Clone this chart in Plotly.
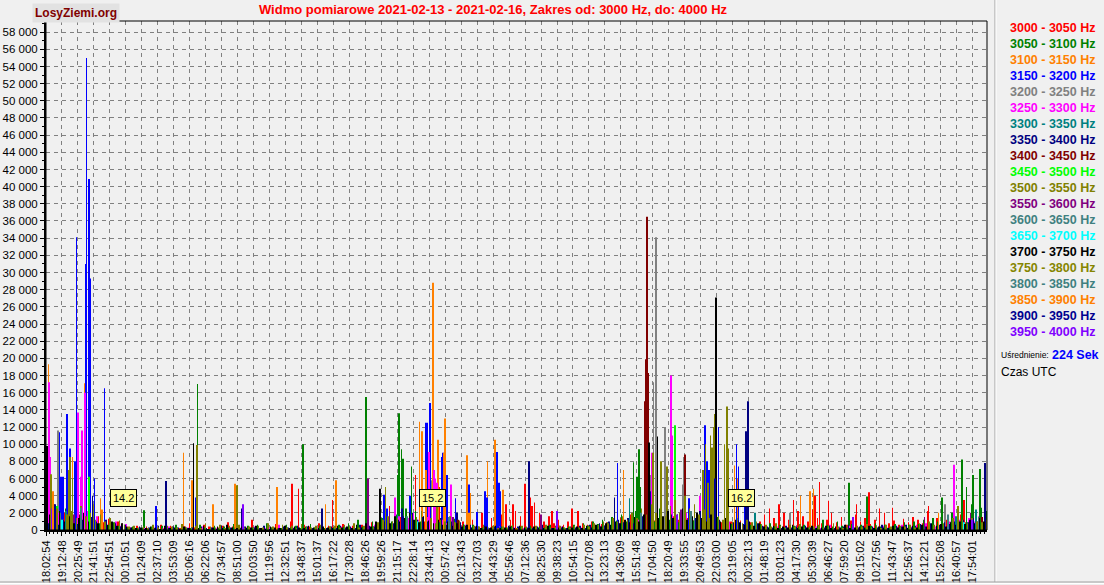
import plotly.graph_objects as go

# x axis: sample index (224 s averaging), one label every 20 samples
time_labels = [
    "18:02:54", "19:12:48", "20:25:49", "21:41:51", "22:54:51", "00:10:51", "01:24:09",
    "02:37:10", "03:53:09", "05:06:16", "06:22:06", "07:34:57", "08:51:00", "10:03:50",
    "11:19:56", "12:32:51", "13:48:37", "15:01:37", "16:17:22", "17:30:28", "18:46:26",
    "19:59:26", "21:15:17", "22:28:14", "23:44:13", "00:57:42", "02:13:43", "03:27:03",
    "04:43:29", "05:56:46", "07:12:36", "08:25:30", "09:38:23", "10:54:15", "12:07:08",
    "13:23:13", "14:36:09", "15:51:48", "17:04:50", "18:20:49", "19:33:55", "20:49:53",
    "22:03:00", "23:19:05", "00:32:13", "01:48:19", "03:01:23", "04:17:30", "05:30:39",
    "06:46:27", "07:59:20", "09:15:02", "10:27:56", "11:43:47", "12:56:37", "14:12:21",
    "15:25:08", "16:40:57", "17:54:01",
]
label_step = 20

bands = [
    "3000 - 3050 Hz", "3050 - 3100 Hz", "3100 - 3150 Hz", "3150 - 3200 Hz",
    "3200 - 3250 Hz", "3250 - 3300 Hz", "3300 - 3350 Hz", "3350 - 3400 Hz",
    "3400 - 3450 Hz", "3450 - 3500 Hz", "3500 - 3550 Hz", "3550 - 3600 Hz",
    "3600 - 3650 Hz", "3650 - 3700 Hz", "3700 - 3750 Hz", "3750 - 3800 Hz",
    "3800 - 3850 Hz", "3850 - 3900 Hz", "3900 - 3950 Hz", "3950 - 4000 Hz",
]
colors = [
    "#FF0000", "#008000", "#FF8000", "#0000FF", "#808080", "#FF00FF", "#008080",
    "#000080", "#800000", "#00FF00", "#808000", "#800080", "#408080", "#00FFFF",
    "#000000", "#858500", "#408080", "#FF8000", "#000090", "#8000FF",
]

# low-level background per band, in hundreds, one value every 6 samples
floor_red = [
    12, 8, 15, 6, 20, 10, 14, 9, 18, 7, 11, 16, 9, 13, 6, 10, 8, 4, 3, 5,
    2, 4, 1, 3, 6, 2, 5, 3, 2, 4, 8, 3, 2, 6, 4, 1, 3, 5, 9, 4,
    2, 6, 3, 12, 4, 2, 5, 3, 7, 2, 4, 10, 3, 2, 6, 4, 3, 8, 2, 5,
    3, 4, 7, 2, 5, 3, 6, 4, 9, 5, 8, 12, 6, 10, 15, 7, 12, 9, 14, 10,
    16, 8, 11, 6, 13, 9, 7, 10, 8, 12, 15, 20, 9, 14, 25, 18, 30, 12, 22, 16,
    35, 28, 14, 20, 10, 16, 8, 12, 6, 10, 5, 22, 8, 6, 10, 4, 7, 9, 12, 8,
    14, 10, 18, 7, 12, 9, 15, 11, 8, 13, 10, 16, 12, 9, 14, 11, 8, 13, 10, 7,
    12, 9, 15, 10, 8, 11, 14, 9, 12, 10, 18, 25, 14, 30, 20, 12, 35, 22, 16, 10,
    24, 14, 8, 12, 20, 9, 15, 6, 11, 18, 10, 14, 7, 12, 9, 20, 8, 11, 6, 13,
    9, 15, 12, 8, 22, 10, 14, 9, 12, 16, 11, 18, 9, 14, 12, 8, 15,
]
floor_green = [
    10, 18, 8, 14, 25, 12, 20, 9, 16, 11, 14, 8, 12, 6, 9, 5, 7, 3, 4, 2,
    3, 1, 4, 2, 5, 3, 2, 6, 1, 3, 2, 4, 6, 3, 1, 5, 2, 4, 3, 7,
    4, 2, 5, 3, 6, 2, 8, 3, 4, 2, 6, 3, 5, 2, 4, 7, 3, 5, 2, 4,
    3, 6, 4, 8, 5, 12, 4, 7, 10, 6, 14, 20, 10, 18, 12, 25, 16, 22, 10, 14,
    12, 18, 9, 15, 8, 13, 10, 7, 5, 6, 4, 3, 5, 2, 6, 4, 3, 5, 2, 4,
    3, 5, 2, 4, 3, 6, 2, 5, 3, 4, 6, 3, 8, 5, 10, 7, 12, 9, 15, 11,
    18, 10, 14, 22, 12, 16, 20, 10, 25, 14, 12, 18, 9, 15, 20, 11, 16, 8, 13, 10,
    15, 9, 12, 7, 11, 8, 10, 6, 9, 7, 5, 8, 4, 6, 3, 7, 5, 4, 6, 3,
    8, 5, 12, 6, 4, 10, 5, 3, 7, 4, 6, 3, 5, 8, 4, 6, 3, 7, 5, 9,
    6, 10, 7, 12, 8, 14, 10, 16, 12, 20, 15, 25, 18, 30, 20, 26, 22,
]
floor_olive = [
    20, 15, 25, 12, 18, 22, 14, 28, 16, 20, 12, 18, 10, 14, 8, 11, 6, 4, 5, 3,
    4, 2, 6, 3, 2, 5, 4, 3, 7, 2, 3, 5, 2, 8, 4, 3, 6, 2, 5, 3,
    6, 3, 4, 2, 5, 3, 8, 4, 2, 6, 3, 5, 2, 7, 4, 3, 5, 6, 3, 4,
    5, 3, 6, 4, 8, 3, 5, 7, 4, 9, 12, 16, 10, 14, 20, 12, 18, 15, 22, 10,
    14, 8, 12, 10, 16, 9, 11, 6, 8, 5, 4, 6, 3, 5, 2, 4, 3, 6, 2, 5,
    4, 3, 5, 2, 6, 3, 4, 5, 2, 3, 5, 3, 6, 4, 8, 6, 10, 8, 14, 10,
    16, 12, 20, 14, 25, 18, 30, 20, 22, 16, 28, 35, 20, 40, 25, 30, 18, 24, 14, 20,
    16, 12, 18, 10, 14, 8, 12, 9, 10, 7, 6, 4, 8, 5, 3, 6, 4, 7, 3, 5,
    4, 6, 3, 5, 8, 4, 2, 6, 3, 5, 4, 7, 3, 5, 2, 6, 4, 3, 5, 4,
    6, 3, 8, 5, 10, 6, 12, 8, 10, 14, 10, 12, 8, 14, 10, 9, 12,
]
floor_navy = [
    8, 14, 6, 12, 10, 18, 7, 12, 9, 15, 10, 7, 12, 5, 8, 4, 6, 3, 2, 4,
    1, 3, 2, 5, 1, 2, 4, 3, 1, 2, 3, 1, 4, 2, 3, 1, 5, 2, 3, 1,
    2, 4, 1, 3, 2, 5, 1, 3, 2, 4, 3, 2, 5, 1, 4, 2, 3, 6, 2, 4,
    2, 5, 3, 4, 2, 6, 3, 5, 4, 8, 10, 14, 8, 12, 16, 9, 20, 12, 15, 10,
    12, 8, 14, 6, 10, 7, 9, 5, 6, 4, 3, 5, 2, 4, 3, 2, 5, 3, 4, 2,
    3, 2, 4, 6, 3, 2, 5, 3, 2, 4, 3, 5, 2, 6, 4, 8, 5, 10, 7, 12,
    9, 14, 8, 12, 16, 10, 13, 9, 15, 11, 18, 12, 20, 10, 16, 14, 22, 12, 10, 15,
    12, 8, 14, 9, 11, 7, 10, 6, 8, 5, 4, 3, 6, 2, 5, 3, 4, 2, 5, 3,
    2, 4, 3, 5, 2, 3, 4, 6, 2, 3, 5, 2, 4, 3, 6, 2, 3, 5, 4, 6,
    3, 5, 7, 4, 8, 5, 6, 9, 7, 10, 8, 12, 9, 14, 10, 11, 16,
]
floor_magenta = [
    15, 10, 20, 12, 25, 14, 30, 18, 22, 12, 16, 9, 12, 6, 10, 5, 7, 3, 2, 1,
    2, 1, 3, 1, 2, 4, 1, 2, 1, 3, 1, 2, 4, 1, 3, 2, 1, 5, 2, 1,
    3, 1, 2, 4, 1, 2, 3, 1, 6, 2, 1, 3, 2, 1, 4, 2, 1, 3, 2, 1,
    2, 4, 1, 3, 2, 5, 3, 2, 6, 4, 8, 12, 6, 16, 10, 14, 20, 12, 8, 15,
    10, 6, 12, 8, 5, 9, 4, 6, 3, 4, 2, 3, 1, 2, 4, 1, 2, 3, 1, 2,
    3, 1, 2, 1, 3, 2, 1, 4, 2, 1, 2, 3, 1, 4, 2, 5, 3, 6, 4, 8,
    6, 10, 5, 12, 8, 6, 14, 9, 7, 12, 10, 16, 8, 20, 12, 9, 14, 10, 8, 12,
    9, 6, 10, 5, 8, 4, 7, 3, 6, 4, 3, 2, 4, 1, 3, 2, 5, 2, 3, 1,
    4, 2, 3, 6, 2, 4, 3, 5, 2, 3, 2, 4, 3, 2, 5, 3, 2, 4, 6, 3,
    4, 6, 3, 8, 5, 4, 7, 5, 10, 6, 12, 8, 14, 10, 16, 9, 11,
]
floor_black = [
    18, 12, 22, 10, 16, 8, 14, 20, 10, 12, 8, 14, 6, 10, 5, 8, 4, 3, 2, 3,
    2, 4, 3, 1, 5, 2, 3, 1, 4, 2, 3, 2, 5, 1, 3, 4, 2, 6, 3, 2,
    4, 2, 3, 5, 2, 1, 4, 3, 2, 5, 2, 4, 3, 2, 5, 3, 2, 4, 3, 2,
    5, 3, 4, 2, 6, 3, 8, 4, 10, 6, 12, 8, 16, 10, 14, 20, 12, 9, 16, 11,
    8, 12, 6, 10, 5, 8, 4, 6, 3, 5, 2, 4, 3, 5, 2, 3, 4, 2, 5, 3,
    2, 4, 3, 2, 5, 2, 3, 4, 2, 3, 4, 2, 5, 3, 6, 4, 8, 6, 10, 8,
    12, 9, 15, 10, 18, 12, 20, 14, 16, 22, 14, 18, 25, 12, 16, 20, 14, 10, 18, 12,
    10, 14, 8, 12, 9, 6, 10, 5, 8, 4, 3, 5, 2, 4, 3, 6, 2, 4, 3, 5,
    2, 3, 5, 2, 4, 3, 6, 2, 3, 4, 3, 5, 2, 4, 3, 2, 5, 3, 4, 2,
    5, 3, 6, 4, 8, 5, 7, 4, 9, 6, 10, 7, 12, 8, 14, 10, 9,
]
floor_step = 6

# peaks per band: (sample index, value)
spikes_3000 = [(10, 3000), (61, 5500), (308, 5400), (316, 4800), (359, 3500), (430, 2800),
               (463, 6400), (493, 5000), (585, 3000), (600, 5400), (606, 3800), (609, 2800),
               (612, 3200), (634, 2200), (659, 2500), (963, 4000), (969, 5600), (980, 3400),
               (1015, 3000), (1031, 4400), (1044, 2500), (1060, 2600), (1105, 2800), (1150, 3500)]
spikes_3050 = [(123, 2300), (190, 17000), (322, 10000), (401, 15500), (440, 6400), (442, 13600),
               (445, 9400), (447, 8300), (458, 7400), (736, 7900), (740, 6200), (743, 9400),
               (744, 5000), (1006, 5500), (1028, 3900), (1122, 3800), (1147, 8200), (1153, 5000),
               (1161, 6400), (1170, 7100)]
spikes_3100 = [(3, 19300), (33, 8500), (48, 17100), (68, 3700), (172, 9000), (183, 5800),
               (209, 3000), (237, 5400), (289, 5000), (363, 5800), (455, 2700), (468, 12600),
               (471, 11500), (485, 28800), (491, 10500), (500, 13000), (503, 6000), (527, 8700),
               (531, 4300), (553, 8000), (562, 10500), (572, 4700), (723, 7000), (853, 9500),
               (866, 6000), (945, 4000), (957, 4500), (961, 4800)]
spikes_3150 = [(16, 11400), (19, 6200), (21, 6200), (26, 13500), (30, 9500), (36, 8000),
               (38, 34100), (45, 11000), (50, 31000), (51, 55000), (53, 33500), (54, 40900),
               (55, 29300), (56, 12000), (61, 6000), (73, 16500), (138, 2800), (188, 3800),
               (423, 4100), (427, 2500), (456, 4000), (475, 12500), (477, 12500), (481, 14800),
               (496, 8500), (497, 9000), (502, 6400), (513, 3700), (530, 5300), (540, 2100),
               (550, 4500), (552, 3800), (565, 9100), (567, 5500), (569, 4500), (716, 7800),
               (805, 3700), (825, 12200), (828, 8000), (830, 7000), (842, 12000), (865, 10000),
               (867, 7400), (875, 4000)]
spikes_3200 = [(15, 11600), (483, 5800), (757, 6400), (761, 17200), (764, 34100), (766, 9000),
               (775, 11900), (798, 5300), (799, 8500), (932, 2000), (1126, 3000)]
spikes_3250 = [(4, 17200), (5, 8500), (40, 13700), (43, 6200), (45, 11600), (49, 16000),
               (437, 3800), (480, 9100), (486, 7000), (488, 6000), (490, 5500), (507, 5300),
               (759, 9000), (783, 18000), (784, 11000), (819, 4000), (1137, 7600)]
spikes_3300 = [(10, 1500), (25, 2200), (42, 1200), (440, 1800), (470, 1400), (731, 3700),
               (760, 1500), (888, 2000), (1140, 1600), (1165, 2400)]
spikes_3350 = [(150, 5700), (245, 2500), (346, 2500), (515, 2000), (605, 8000), (712, 3800),
               (877, 11500), (879, 15000), (1176, 7800)]
spikes_3400 = [(9, 2000), (42, 1800), (516, 1200), (750, 15000), (751, 19900), (752, 26800),
               (753, 36500), (754, 18300), (800, 8800), (1172, 1500)]
spikes_3450 = [(14, 2800), (54, 6200), (788, 12200)]
spikes_3500 = [(2, 8600), (30, 8500), (33, 6000), (189, 9900), (239, 5200), (778, 7400),
               (823, 7000), (826, 10000), (829, 5500), (832, 11000), (834, 9600), (837, 13500),
               (853, 14400), (855, 9500)]
spikes_3550 = [(8, 2500), (35, 1800), (403, 6000), (430, 2200), (510, 1500), (620, 1800),
               (795, 2400), (1100, 1500), (1158, 2000)]
spikes_3600 = [(12, 1800), (44, 2600), (452, 1600), (745, 2000), (812, 1400), (1130, 1800)]
spikes_3650 = [(20, 1200), (466, 1000), (790, 1500), (1150, 900)]
spikes_3700 = [(1, 9800), (185, 10100), (418, 4800), (755, 10200), (766, 10900), (839, 27100),
               (840, 14000)]
spikes_3750 = [(6, 6500), (28, 7000), (59, 3000), (425, 5000), (490, 3600), (760, 9000),
               (770, 8000), (836, 12000), (850, 10000), (1142, 2800)]
spikes_3800 = [(18, 2000), (505, 1500), (808, 2200), (1168, 1500)]
spikes_3850 = [(9, 4500), (70, 2400), (350, 3000), (476, 7000), (498, 9000), (530, 2000),
               (862, 7500), (1118, 2000)]
spikes_3900 = [(11, 3000), (58, 4000), (446, 2500), (757, 4500), (838, 6000)]
spikes_3950 = [(7, 2500), (247, 3000), (640, 2200), (790, 1800), (1011, 1500), (1160, 1200)]

spikes = [spikes_3000, spikes_3050, spikes_3100, spikes_3150, spikes_3200, spikes_3250,
          spikes_3300, spikes_3350, spikes_3400, spikes_3450, spikes_3500, spikes_3550,
          spikes_3600, spikes_3650, spikes_3700, spikes_3750, spikes_3800, spikes_3850,
          spikes_3900, spikes_3950]
# band index -> (floor list, sample offset)
floors = {0: (floor_red, 0), 1: (floor_green, 1), 10: (floor_olive, 2),
          7: (floor_navy, 3), 5: (floor_magenta, 4), 14: (floor_black, 5)}

# midnight markers (sample index)
day_marks = [("14.2", 97), ("15.2", 484), ("16.2", 871)]

n_samples = 1178.5
y_max = 59300

# plot area in pixels
L, R, T, B = 46, 987, 21, 530


def px(x):
    return (x - L) / (R - L)


def py(y):
    return (B - y) / (B - T)


fig = go.Figure()

for i, band in enumerate(bands):
    xs, ys = [], []
    if i in floors:
        vals, off = floors[i]
        xs += [floor_step * k + off for k in range(len(vals))]
        ys += [v * 100 for v in vals]
    for idx, v in spikes[i]:
        xs.append(idx)
        ys.append(v)
    fig.add_trace(go.Bar(x=xs, y=ys, width=0.7, name=band,
                         marker=dict(color=colors[i], line_width=0),
                         showlegend=False, hoverinfo="skip"))

font = "Liberation Sans, Arial, sans-serif"
annotations = []
for i, band in enumerate(bands):
    annotations.append(dict(x=px(1008), y=py(28 + 16 * i), xref="paper", yref="paper",
                            xanchor="left", yanchor="middle", showarrow=False, text=band,
                            font=dict(family=font, size=12.5, color=colors[i], weight="bold")))
annotations += [
    dict(x=px(999), y=py(355), xref="paper", yref="paper", xanchor="left", yanchor="middle",
         showarrow=False, text="Uśrednienie:", font=dict(family=font, size=8.5, color="black")),
    dict(x=px(1050), y=py(355), xref="paper", yref="paper", xanchor="left", yanchor="middle",
         showarrow=False, text="224 Sek",
         font=dict(family=font, size=12.5, color="#0000FF", weight="bold")),
    dict(x=px(999), y=py(372), xref="paper", yref="paper", xanchor="left", yanchor="middle",
         showarrow=False, text="Czas UTC", font=dict(family=font, size=12, color="black")),
    dict(x=px(76), y=py(13), xref="paper", yref="paper", xanchor="center", yanchor="middle",
         showarrow=False, text="LosyZiemi.org", bgcolor="#E2E2E2", borderpad=2,
         font=dict(family=font, size=12, color="#800000", weight="bold")),
]
shapes = []
for lbl, idx in day_marks:
    shapes.append(dict(type="line", xref="x", yref="y", x0=idx, x1=idx, y0=0, y1=2900,
                       line=dict(color="white", width=1)))
    annotations.append(dict(x=idx, y=3700, xref="x", yref="y", showarrow=False, text=lbl,
                            bgcolor="#FFFF99", bordercolor="black", borderwidth=1, borderpad=2,
                            font=dict(family=font, size=11, color="black")))

shapes += [
    dict(type="rect", xref="paper", yref="paper", x0=0, x1=1, y0=0, y1=1,
         line=dict(color="black", width=1)),
    dict(type="line", xref="paper", yref="paper", x0=px(995), x1=px(995), y0=py(0), y1=py(582),
         line=dict(color="#A0A0A0", width=1)),
    dict(type="line", xref="paper", yref="paper", x0=px(996), x1=px(996), y0=py(0), y1=py(582),
         line=dict(color="#FFFFFF", width=1)),
    dict(type="line", xref="paper", yref="paper", x0=px(0), x1=px(1104), y0=py(582), y1=py(582),
         line=dict(color="#A0A0A0", width=1)),
    dict(type="line", xref="paper", yref="paper", x0=px(0), x1=px(1104), y0=py(583.5), y1=py(583.5),
         line=dict(color="#FFFFFF", width=1)),
]

fig.update_layout(
    width=1104, height=585,
    margin=dict(l=L, r=1104 - R, t=T, b=585 - B, autoexpand=False),
    paper_bgcolor="#F0F0F0", plot_bgcolor="#F0F0F0",
    barmode="overlay",
    separators=", ",
    font=dict(family=font, color="black"),
    title=dict(text="Widmo pomiarowe 2021-02-13 - 2021-02-16, Zakres od: 3000 Hz, do: 4000 Hz",
               x=493 / 1104, xref="container", xanchor="center",
               y=1 - 9 / 585, yref="container", yanchor="middle",
               font=dict(family=font, size=13, color="#FF0000", weight="bold")),
    annotations=annotations,
    shapes=shapes,
    xaxis=dict(
        range=[0, n_samples], tickmode="array", automargin=False,
        tickvals=[label_step * k for k in range(len(time_labels))], ticktext=time_labels,
        tickangle=-90, tickfont=dict(size=11), ticks="outside", ticklen=4, tickcolor="black",
        showgrid=True, gridcolor="#808080", griddash="4px,4px", gridwidth=1,
        showline=True, linecolor="black", linewidth=2, zeroline=False,
        minor=dict(tickmode="linear", tick0=0, dtick=5, ticks="outside", ticklen=2,
                   tickcolor="black", showgrid=False),
    ),
    yaxis=dict(
        range=[0, y_max], dtick=2000, tick0=0, tickformat=",d", automargin=False,
        tickfont=dict(size=11.5), ticks="outside", ticklen=4, tickcolor="black",
        showgrid=True, gridcolor="#808080", griddash="4px,4px", gridwidth=1,
        showline=True, linecolor="black", linewidth=2, zeroline=False,
        minor=dict(tickmode="linear", tick0=0, dtick=1000, ticks="outside", ticklen=2,
                   tickcolor="black", showgrid=False),
    ),
)

# the page must not add its own margin around the figure
fig.write_html("out.html", config={"displayModeBar": False},
               post_script="document.body.style.margin='0';"
                           "document.body.style.overflow='hidden';"
                           "document.body.style.background='#F0F0F0';")
